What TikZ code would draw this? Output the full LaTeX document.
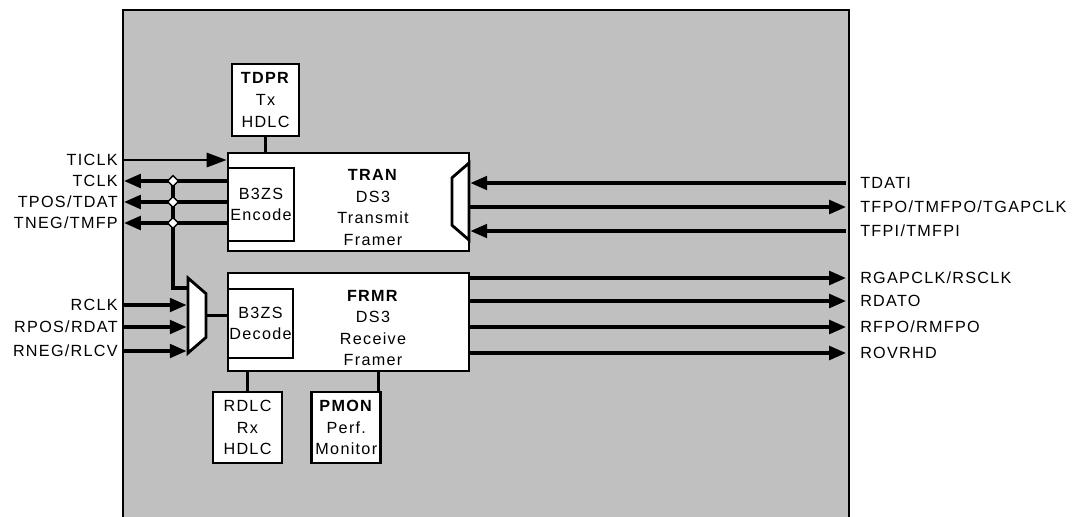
\documentclass[tikz,border=0pt]{standalone}
\usepackage{fontspec}
\setmainfont{Liberation Sans}[LetterSpace=8]
\usetikzlibrary{positioning, arrows.meta, shapes.geometric}
\definecolor{framegray}{HTML}{C0C0C0}

\tikzset{
  blk/.style={draw, fill=white, line width=2pt, inner sep=0pt, align=center},
  mx/.style={trapezium, draw, fill=white, line width=2pt, inner xsep=0pt,
    trapezium angle=49, trapezium stretches body=true},
  wire/.style={line width=2.4pt},
  bus/.style={wire, -{Triangle[length=0.42cm, width=0.34cm]}},
  clkbus/.style={line width=1.4pt, -{Triangle[length=0.5cm, width=0.36cm]}},
  lpin/.style={anchor=east, inner xsep=0.15cm, inner ysep=0pt, text height=8.2pt, text depth=0pt},
  rpin/.style={anchor=west, inner xsep=0.35cm, inner ysep=0pt, text height=8.2pt, text depth=0pt},
  jct/.style={diamond, draw, fill=white, line width=1pt, inner sep=0pt, minimum size=0.28cm}
}

\begin{document}
\begin{tikzpicture}[x=0.025cm, y=-0.025cm, font=\fontsize{11.5}{15.3}\selectfont]
   \useasboundingbox (0,0) rectangle (1080,516);
   \clip (0,0) rectangle (1080,516);
   \draw[line width=2pt, fill=framegray] (123,10) rectangle (849,540);

   \node[blk, minimum width=1.675cm, minimum height=1.8cm] (tdpr) at (265.5,100) {\textbf{TDPR}\\Tx\\HDLC};
   \node[blk, minimum width=6.025cm, minimum height=2.45cm] (tran) at (348.5,202) {};
   \node[blk, minimum width=1.65cm, minimum height=1.825cm] (enc) at (261,204.5) {B3ZS\\Encode};
   \node[align=center] (trantxt) at (373,207.5) {\textbf{TRAN}\\DS3\\Transmit\\Framer};
   \node[mx, rotate=90, inner ysep=0.2125cm, minimum width=1.925cm] (txmux) at (460.5,201.5) {};

   \node[blk, minimum width=6.025cm, minimum height=2.45cm] (frmr) at (348.5,322) {};
   \node[blk, minimum width=1.625cm, minimum height=1.725cm] (dec) at (260.5,323.5) {B3ZS\\Decode};
   \node[align=center] (frmrtxt) at (373,328) {\textbf{FRMR}\\DS3\\Receive\\Framer};
   \node[mx, rotate=-90, inner ysep=0.225cm, minimum width=1.875cm] (mux) at (197,315.5) {};

   \node[blk, minimum width=1.725cm, minimum height=1.775cm] (rdlc) at (247.5,427.5) {RDLC\\Rx\\HDLC};
   \node[blk, minimum width=1.725cm, minimum height=1.775cm, right=0.675cm of rdlc] (pmon) {\textbf{PMON}\\Perf.\\Monitor};

   \node[lpin] (ticlk) at (124,160) {TICLK};
   \node[lpin] (tclk) at (124,181) {TCLK};
   \node[lpin] (tpos) at (124,202) {TPOS/TDAT};
   \node[lpin] (tneg) at (124,223) {TNEG/TMFP};
   \node[lpin] (rclk) at (124,305) {RCLK};
   \node[lpin] (rpos) at (124,327) {RPOS/RDAT};
   \node[lpin] (rneg) at (124,351) {RNEG/RLCV};

   \node[rpin] (tdati) at (846,183) {TDATI};
   \node[rpin] (tfpo) at (846,207) {TFPO/TMFPO/TGAPCLK};
   \node[rpin] (tfpi) at (846,231) {TFPI/TMFPI};
   \node[rpin] (rgap) at (846,278) {RGAPCLK/RSCLK};
   \node[rpin] (rdato) at (846,301) {RDATO};
   \node[rpin] (rfpo) at (846,327) {RFPO/RMFPO};
   \node[rpin] (rovr) at (846,353) {ROVRHD};

   \coordinate (tap) at (173,288);
   \coordinate (pmtap) at ([xshift=-0.1cm]pmon.north east);

   \draw[wire] (tdpr.south) -- (tdpr.south |- tran.north);
   \draw[wire] (rdlc.north) -- (rdlc.north |- frmr.south);
   \draw[wire] (pmtap) -- (pmtap |- frmr.south);

   \draw[clkbus] (ticlk.east) -- (ticlk.east -| tran.west);
   \draw[bus] (tclk.east -| enc.west) -- (tclk.east);
   \draw[bus] (tpos.east -| enc.west) -- (tpos.east);
   \draw[bus] (tneg.east -| enc.west) -- (tneg.east);
   \draw[wire] (tclk.east -| tap) -- (tap) -- (tap -| mux.south);
   \node[jct] (j1) at (tclk.east -| tap) {};
   \node[jct] (j2) at (tpos.east -| tap) {};
   \node[jct] (j3) at (tneg.east -| tap) {};

   \draw[bus] (rclk.east) -- (rclk.east -| mux.south);
   \draw[bus] (rpos.east) -- (rpos.east -| mux.south);
   \draw[bus] (rneg.east) -- (rneg.east -| mux.south);
   \draw[wire] (mux.north) -- (mux.north -| dec.west);

   \draw[bus] (tdati.west) -- (tdati.west -| txmux.south);
   \draw[bus] (tfpo.west -| txmux.south) -- (tfpo.west);
   \draw[bus] (tfpi.west) -- (tfpi.west -| txmux.south);

   \draw[bus] (rgap.west -| frmr.east) -- (rgap.west);
   \draw[bus] (rdato.west -| frmr.east) -- (rdato.west);
   \draw[bus] (rfpo.west -| frmr.east) -- (rfpo.west);
   \draw[bus] (rovr.west -| frmr.east) -- (rovr.west);
\end{tikzpicture}
\end{document}
